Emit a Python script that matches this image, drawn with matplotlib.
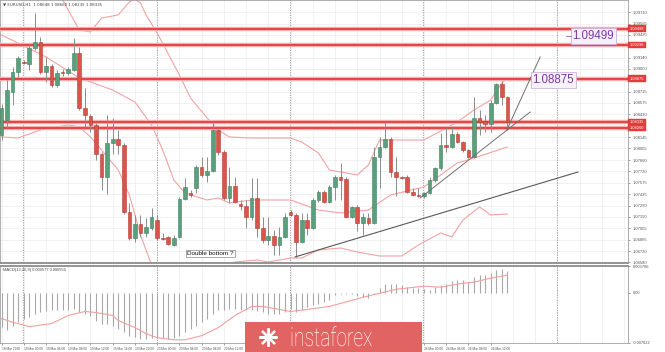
import matplotlib
matplotlib.use("Agg")
import matplotlib.pyplot as plt
import matplotlib.transforms as mtransforms
from matplotlib.patches import Rectangle, PathPatch
from matplotlib.textpath import TextPath
from matplotlib.font_manager import FontProperties

# EURUSD H1 candles, 18 Mar 20:00 .. 24 Mar 15:00
opens = [1.08173, 1.0836, 1.0871, 1.0896, 1.09085, 1.0906, 1.0926, 1.09335, 1.0896, 1.09035,
         1.08798, 1.0896, 1.08948, 1.08985, 1.09198, 1.0851, 1.0841, 1.08298, 1.07935, 1.07648,
         1.08073, 1.08123, 1.08048, 1.0721, 1.06885, 1.0706, 1.06948, 1.0701, 1.0711, 1.06885,
         1.06898, 1.06798, 1.06898, 1.07373, 1.07448, 1.0751, 1.07773, 1.07673, 1.07723, 1.08235,
         1.0796, 1.07385, 1.07535, 1.0731, 1.07285, 1.07148, 1.07385, 1.0701, 1.0686, 1.0691,
         1.06798, 1.06898, 1.0721, 1.07173, 1.06835, 1.0711, 1.0701, 1.0736, 1.0746, 1.07335,
         1.07523, 1.07648, 1.07623, 1.07148, 1.07273, 1.07073, 1.07135, 1.07073, 1.07898, 1.08023,
         1.08123, 1.0771, 1.07648, 1.07648, 1.0746, 1.07423, 1.0741, 1.07448, 1.0761, 1.0776,
         1.08048, 1.08023, 1.08185, 1.08085, 1.07985, 1.07898, 1.08385, 1.08348, 1.0831, 1.08573,
         1.0881, 1.08648]
highs = [1.0856, 1.0886, 1.09023, 1.0916, 1.0911, 1.09298, 1.09698, 1.09398, 1.09148, 1.0906,
         1.08985, 1.08998, 1.09023, 1.09385, 1.09273, 1.0876, 1.08435, 1.08323, 1.0796, 1.08423,
         1.08385, 1.08235, 1.08073, 1.07323, 1.07173, 1.07173, 1.07135, 1.0726, 1.07173, 1.06948,
         1.0691, 1.06923, 1.07398, 1.07635, 1.07485, 1.07798, 1.07898, 1.07898, 1.08348, 1.0826,
         1.07985, 1.07773, 1.07648, 1.0736, 1.0736, 1.07635, 1.07635, 1.07148, 1.07148, 1.06985,
         1.07023, 1.07198, 1.07235, 1.07198, 1.07198, 1.07198, 1.07385, 1.07485, 1.07485, 1.07548,
         1.07673, 1.07823, 1.07648, 1.07285, 1.07298, 1.07198, 1.07198, 1.08023, 1.08148, 1.08335,
         1.08148, 1.07898, 1.0766, 1.07673, 1.0751, 1.0751, 1.0746, 1.07648, 1.07773, 1.08198,
         1.08273, 1.08273, 1.0821, 1.08098, 1.07998, 1.08648, 1.08485, 1.08423, 1.0861, 1.08823,
         1.08848, 1.0866]
lows = [1.0811, 1.0826, 1.08548, 1.08898, 1.0906, 1.08985, 1.09235, 1.08935, 1.08835, 1.08773,
        1.08773, 1.0891, 1.08923, 1.08973, 1.08485, 1.08273, 1.0821, 1.0786, 1.07485, 1.07435,
        1.07935, 1.07935, 1.07185, 1.0686, 1.06835, 1.06898, 1.06898, 1.06985, 1.0686, 1.0686,
        1.06798, 1.06785, 1.06885, 1.0736, 1.07398, 1.07448, 1.07648, 1.07585, 1.0771, 1.07923,
        1.0736, 1.07323, 1.07323, 1.07235, 1.0701, 1.0711, 1.06898, 1.06823, 1.06798, 1.06673,
        1.06673, 1.06885, 1.0716, 1.06648, 1.06823, 1.06923, 1.06998, 1.07335, 1.07323, 1.07323,
        1.0736, 1.0736, 1.07135, 1.07135, 1.06973, 1.06923, 1.07048, 1.0706, 1.0751, 1.0801,
        1.07648, 1.0741, 1.07623, 1.07448, 1.0741, 1.07398, 1.07385, 1.07435, 1.07585, 1.07735,
        1.0796, 1.0801, 1.08073, 1.0796, 1.07885, 1.07885, 1.08173, 1.0821, 1.0821, 1.0856,
        1.08548, 1.08235]
closes = [1.0851, 1.08735, 1.0896, 1.09135, 1.09073, 1.0926, 1.09335, 1.0896, 1.09035, 1.08798,
          1.08948, 1.08948, 1.08998, 1.09198, 1.0851, 1.08423, 1.08298, 1.07935, 1.07648, 1.08073,
          1.08123, 1.08048, 1.0721, 1.06885, 1.0706, 1.06948, 1.07023, 1.07148, 1.06885, 1.06873,
          1.0681, 1.06885, 1.07373, 1.07523, 1.07423, 1.07773, 1.07673, 1.07723, 1.08235, 1.0796,
          1.07385, 1.07535, 1.07335, 1.07285, 1.07148, 1.07385, 1.0701, 1.0686, 1.0691, 1.06798,
          1.06898, 1.07148, 1.07173, 1.06835, 1.0711, 1.0701, 1.0736, 1.0746, 1.07335, 1.07523,
          1.07648, 1.0761, 1.07148, 1.07273, 1.07073, 1.07148, 1.07073, 1.07898, 1.08023, 1.08123,
          1.0771, 1.07648, 1.07635, 1.0746, 1.07423, 1.0741, 1.07448, 1.0761, 1.0776, 1.08048,
          1.08023, 1.08185, 1.08085, 1.07985, 1.07898, 1.08385, 1.08335, 1.0831, 1.08573, 1.0881,
          1.08648, 1.08335]

# bollinger bands, read at some bars
upper_idx = [10, 11, 14, 16, 18, 21, 23, 24, 25, 26, 28, 32, 34, 37, 39, 41, 45, 52, 54, 57,
             59, 61, 64, 66, 68, 76, 82, 85, 88, 90, 91]
upper_val = [1.09985, 1.0986, 1.09485, 1.0946, 1.09635, 1.09673, 1.09835, 1.09873, 1.09823, 1.09673,
             1.09448, 1.08923, 1.08635, 1.08385, 1.08235, 1.08148, 1.08135, 1.08135, 1.08085, 1.07948,
             1.07735, 1.0771, 1.07673, 1.07798, 1.0811, 1.0811, 1.08335, 1.08485, 1.0861, 1.08823,
             1.08885]
mid_idx = [0, 8, 14, 20, 24, 27, 29, 31, 33, 37, 39, 41, 45, 52, 57, 61, 66, 70, 76, 82, 85, 91]
mid_val = [1.09423, 1.09148, 1.08885, 1.08735, 1.08585, 1.08298, 1.07985, 1.0761, 1.07448, 1.0736,
           1.07385, 1.07323, 1.0736, 1.0736, 1.07235, 1.07198, 1.07235, 1.07423, 1.07523, 1.07823,
           1.07885, 1.08023]
lower_idx = [0, 3, 7, 12, 14, 16, 18, 21, 23, 25, 27, 29, 36, 40, 42, 46, 48, 52, 54, 57,
             61, 64, 68, 72, 75, 79, 81, 83, 86, 88, 91]
lower_val = [1.08148, 1.08135, 1.08235, 1.08298, 1.08273, 1.08148, 1.07985, 1.07735, 1.07423, 1.06923,
             1.06548, 1.06298, 1.06235, 1.06485, 1.06585, 1.0661, 1.06585, 1.06635, 1.06635, 1.06735,
             1.0676, 1.0671, 1.0666, 1.0666, 1.06798, 1.06948, 1.06898, 1.0711, 1.07273, 1.07173,
             1.07185]

# horizontal levels and trend lines
levels = [1.09499, 1.09298, 1.08875, 1.08335, 1.08260]
trend_long = ([52.8, 103.7], [1.06648, 1.0771])
trend_mid = ([75.3, 95.1], [1.07385, 1.0846])
trend_steep = ([90.9, 96.9], [1.08235, 1.09148])

price_ticks = [1.09710, 1.09565, 1.09425, 1.09140, 1.09000, 1.08715, 1.08575, 1.08430, 1.08145,
               1.08005, 1.07860, 1.07720, 1.07575, 1.07435, 1.07290, 1.07150, 1.07005, 1.06865,
               1.06720, 1.06580]

# MACD histogram and signal
macd = [-0.00482, -0.00520, -0.00459, -0.00411, -0.00364, -0.00340, -0.00293, -0.00269, -0.00255, -0.00246,
        -0.00236, -0.00236, -0.00246, -0.00222, -0.00269, -0.00293, -0.00317, -0.00388, -0.00435, -0.00435,
        -0.00459, -0.00506, -0.00553, -0.00600, -0.00624, -0.00648, -0.00648, -0.00633, -0.00633, -0.00633,
        -0.00648, -0.00633, -0.00600, -0.00553, -0.00506, -0.00459, -0.00411, -0.00364, -0.00293, -0.00246,
        -0.00246, -0.00222, -0.00222, -0.00236, -0.00246, -0.00246, -0.00260, -0.00269, -0.00293, -0.00293,
        -0.00293, -0.00269, -0.00222, -0.00269, -0.00246, -0.00199, -0.00175, -0.00151, -0.00128, -0.00104,
        -0.00033, -0.00019, -0.00019, -0.00019, -0.00047, -0.00057, -0.00066, -0.00009, 0.00071, 0.00132,
        0.00132, 0.00132, 0.00109, 0.00085, 0.00076, 0.00076, 0.00061, 0.00038, 0.00085, 0.00109,
        0.00132, 0.00170, 0.00180, 0.00180, 0.00156, 0.00227, 0.00251, 0.00251, 0.00274, 0.00321,
        0.00331, 0.00312]
signal_idx = [0, 2, 5, 9, 12, 15, 17, 20, 21, 24, 26, 28, 31, 33, 36, 39, 42, 45, 47, 50, 52,
              55, 59, 63, 65, 68, 71, 76, 79, 83, 85, 88, 91]
signal_val = [-0.00359, -0.00411, -0.00472, -0.00430, -0.00316, -0.00260, -0.00274, -0.00316, -0.00387,
              -0.00486, -0.00571, -0.00628, -0.00657, -0.00657, -0.00600, -0.00486, -0.00316, -0.00189,
              -0.00189, -0.00231, -0.00260, -0.00231, -0.00189, -0.00104, -0.00061, -0.00004, 0.00052,
              0.00095, 0.00081, 0.00138, 0.00152, 0.00208, 0.00250]

date_idx = [0, 4, 8, 12, 16, 20, 24, 28, 32, 36, 40, 44, 48, 52, 56, 60, 64, 68, 72, 76, 80, 84, 88]
date_labels = ["18 Mar 2020", "19 Mar 00:00", "19 Mar 04:00", "19 Mar 08:00", "19 Mar 12:00",
               "19 Mar 16:00", "19 Mar 20:00", "20 Mar 00:00", "20 Mar 04:00", "20 Mar 08:00",
               "20 Mar 12:00", "20 Mar 16:00", "20 Mar 20:00", "23 Mar 00:00", "23 Mar 04:00",
               "23 Mar 08:00", "23 Mar 12:00", "23 Mar 16:00", "23 Mar 20:00", "24 Mar 00:00",
               "24 Mar 04:00", "24 Mar 08:00", "24 Mar 12:00"]
day_starts = [4, 28, 52, 76, 100]

SMALL = ["Liberation Sans", "DejaVu Sans"]

W, H = 665, 352
fig = plt.figure(figsize=(W / 100, H / 100), dpi=100)
fig.patch.set_facecolor("white")
ax = fig.add_axes([0, (H - 263) / H, 628 / W, 263 / H])
ax2 = fig.add_axes([0, (H - 343) / H, 628 / W, 77 / H], sharex=ax)

ax.set_xlim(-0.27, 112.7)
ax.set_ylim(1.065725, 1.0986)
ax2.set_ylim(-0.007022, 0.003786)

GRID = "#ececec"
for a in (ax, ax2):
    for s in a.spines.values():
        s.set_color("#a0a0a0")
        s.set_linewidth(0.6)
    for k in range(0, 113, 4):
        a.axvline(k, color=GRID, lw=0.5, zorder=0)
    for d in day_starts:
        a.axvline(d - 0.1, color="#9a9a9a", lw=0.6, ls=(0, (1.5, 1.5)), zorder=1)
ax.spines["bottom"].set_linewidth(1.3)
ax.spines["bottom"].set_color("#8c8c8c")
ax2.spines["top"].set_linewidth(1.3)
ax2.spines["top"].set_color("#8c8c8c")

# price axis
ax.yaxis.tick_right()
ax.set_yticks(price_ticks)
ax.set_yticklabels(["%.5f" % v for v in price_ticks], family=SMALL)
ax.tick_params(axis="y", labelsize=3.0, length=1.5, pad=2, colors="#555555", width=0.4)
ax.tick_params(axis="x", bottom=False, labelbottom=False)
for v in price_ticks:
    ax.axhline(v, color=GRID, lw=0.5, zorder=0)

# bands
band = "#f0a3a3"
ax.plot(upper_idx, upper_val, color=band, lw=0.8, zorder=2)
ax.plot(mid_idx, mid_val, color=band, lw=0.8, zorder=2)
ax.plot(lower_idx, lower_val, color=band, lw=0.8, zorder=2)

# levels
blend = mtransforms.blended_transform_factory(ax.transAxes, ax.transData)
for lv in levels:
    ax.axhline(lv, color="#f3b0b0", lw=3.2, zorder=3)
    ax.axhline(lv, color="#e23c3c", lw=1.3, zorder=3)
    ax.text(1.003, lv, "%.5f" % lv, transform=blend, fontsize=2.9, color="white", family=SMALL,
            va="center", ha="left", clip_on=False, zorder=6,
            bbox=dict(boxstyle="square,pad=0.35", fc="#e23c3c", ec="#e23c3c", lw=0.3))

# candles
for i in range(len(opens)):
    o, h, l, c = opens[i], highs[i], lows[i], closes[i]
    up = c >= o
    fc = "#5aa07c" if up else "#d9544b"
    ec = "#3f7f5e" if up else "#b53c34"
    ax.vlines(i, l, h, color="#8c8c8c", lw=0.7, zorder=4)
    hb = max(abs(c - o), 0.00008)
    ax.bar(i, hb, bottom=min(o, c), width=0.66, color=fc, edgecolor=ec, lw=0.4, zorder=5)

# trend lines
ax.plot(*trend_long, color="#5a5a5a", lw=0.8, zorder=6)
ax.plot(*trend_mid, color="#707070", lw=0.7, zorder=6)
ax.plot(*trend_steep, color="#707070", lw=0.7, zorder=6)

# annotations
ax.text(33.4, 1.06691, "Double bottom ?", fontsize=4.6, color="#111111", va="center", ha="left",
        family=SMALL, zorder=7,
        bbox=dict(boxstyle="square,pad=0.2", fc="white", ec="#888888", lw=0.5))
lab = dict(family=SMALL, fontsize=8.3, color="#7a3a9c", va="center", ha="left", zorder=7)
ax.text(102.7, 1.09410, "1.09499", bbox=dict(boxstyle="square,pad=0.15", fc="#f6f0fa",
        ec="#cbb3de", lw=0.6), **lab)
ax.text(95.5, 1.08860, "1.08875", bbox=dict(boxstyle="square,pad=0.15", fc="#f6f0fa",
        ec="#cbb3de", lw=0.6), **lab)
ax.plot([101.6, 102.5], [1.09410, 1.09410], color="#9a6ab8", lw=0.6, zorder=7)
ax.text(0.004, 0.99, "\u25bc EURUSD,H1  1.08648 1.08660 1.08235 1.08335", transform=ax.transAxes,
        fontsize=2.9, color="#444444", va="top", ha="left", family=["DejaVu Sans"])

# MACD pane
ax2.vlines(range(len(macd)), 0, macd, color="#a8a8a8", lw=0.8, zorder=3)
ax2.plot(signal_idx, signal_val, color="#f0a0a0", lw=0.8, zorder=4)
ax2.yaxis.tick_right()
ax2.set_yticks([0.003786, 0.0, -0.007022])
ax2.set_yticklabels(["0.003786", "0.00", "-0.007022"], family=SMALL)
ax2.tick_params(axis="y", labelsize=2.9, length=1.5, pad=2, colors="#555555", width=0.4)
ax2.set_xticks(date_idx)
ax2.set_xticklabels(date_labels, family=SMALL)
ax2.tick_params(axis="x", labelsize=2.3, length=1.5, pad=1.5, colors="#555555", width=0.4)
for t in ax2.get_xticklabels():
    t.set_ha("left")
ax2.text(0.004, 0.97, "MACD(12,26,9) 0.000577 0.000556", transform=ax2.transAxes,
         fontsize=2.9, color="#444444", va="top", ha="left", family=SMALL)

# watermark: red plate, white sun icon, condensed light wordmark
fig.patches.append(Rectangle((245 / W, 0), 177 / W, 30 / H, transform=fig.transFigure,
                             facecolor="#e26462", edgecolor="none", zorder=10))
fig.lines.append(plt.Line2D([268 / W], [15 / H], transform=fig.transFigure, marker=(8, 2, 0),
                            markersize=13, markeredgewidth=1.6, color="white", zorder=11))
tp = TextPath((0, 0), "instaforex", size=26, prop=FontProperties(family="Roboto", weight="light"))
word = PathPatch(tp, facecolor="white", edgecolor="none", zorder=11,
                 transform=mtransforms.Affine2D().scale(0.74, 1.0).translate(290, 6))
fig.patches.append(word)

fig.savefig("out.png", dpi=100)
